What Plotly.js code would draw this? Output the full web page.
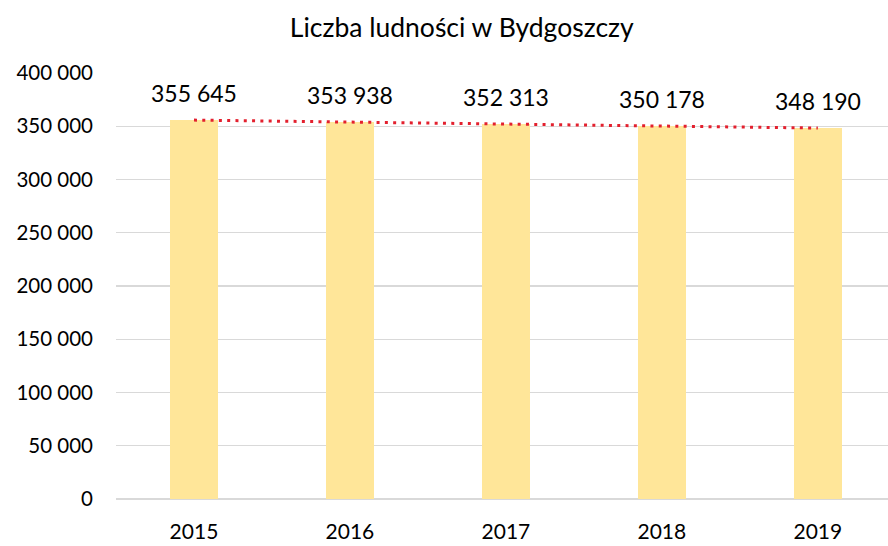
<!DOCTYPE html>
<html>
<head>
<meta charset="utf-8">
<script src="https://cdn.plot.ly/plotly-3.0.1.min.js"></script>
<style>html,body{margin:0;padding:0;background:#fff;}#chart{width:888px;height:546px;}</style>
</head>
<body>
<div id="chart"></div>
<script>
const years = ['2015', '2016', '2017', '2018', '2019'];
const population = [355645, 353938, 352313, 350178, 348190];
const yTickValues = [0, 50000, 100000, 150000, 200000, 250000, 300000, 350000, 400000];
const chartTitle = 'Liczba ludności w Bydgoszczy';

// linear trendline (least squares) computed from the data
const n = population.length;
const idx = population.map((_, i) => i);
const mx = idx.reduce((a, b) => a + b, 0) / n;
const my = population.reduce((a, b) => a + b, 0) / n;
let sxy = 0, sxx = 0;
idx.forEach(i => { sxy += (i - mx) * (population[i] - my); sxx += (i - mx) * (i - mx); });
const slope = sxy / sxx;
const intercept = my - slope * mx;
const trend = idx.map(i => intercept + slope * i);

const font = "Lato, 'Open Sans', sans-serif";
const fmt = v => String(v).replace(/\B(?=(\d{3})+(?!\d))/g, ' ');

const bars = {
  type: 'bar',
  x: years,
  y: population,
  width: 0.31,
  marker: {color: '#FFE699'},
  hoverinfo: 'skip',
  showlegend: false
};

const trendLine = {
  type: 'scatter',
  mode: 'lines',
  x: years,
  y: trend,
  line: {color: '#E3202E', width: 3, dash: '3px,5.3px'},
  hoverinfo: 'skip',
  showlegend: false
};

// category axis: annotation x given as the category index
const labels = years.map((yr, i) => ({
  x: i,
  y: population[i],
  xref: 'x',
  yref: 'y',
  text: fmt(population[i]),
  showarrow: false,
  yanchor: 'bottom',
  xanchor: 'center',
  yshift: 11,
  font: {family: font, size: 23, color: '#000'}
}));

const layout = {
  width: 888,
  height: 546,
  margin: {l: 116, r: 0, t: 73, b: 47},
  paper_bgcolor: '#fff',
  plot_bgcolor: '#fff',
  separators: ', ',
  title: {
    text: chartTitle,
    font: {family: font, size: 26.5, color: '#000'},
    x: 0.52,
    xanchor: 'center',
    y: 0.949,
    yanchor: 'middle'
  },
  xaxis: {
    type: 'category',
    range: [-0.5, 4.45],
    showgrid: false,
    showline: false,
    zeroline: false,
    ticks: '',
    ticklabelstandoff: 18,
    tickfont: {family: font, size: 21, color: '#000'}
  },
  yaxis: {
    range: [0, 400000],
    tickvals: yTickValues,
    tickformat: ',d',
    showgrid: true,
    gridcolor: '#D9D9D9',
    gridwidth: 1.3,
    zeroline: true,
    zerolinecolor: '#D9D9D9',
    zerolinewidth: 1.5,
    showline: false,
    ticks: '',
    ticklabelstandoff: 22,
    tickfont: {family: font, size: 20.5, color: '#000'}
  },
  annotations: labels,
  bargap: 0
};

Plotly.newPlot('chart', [bars, trendLine], layout, {staticPlot: true, displayModeBar: false});
</script>
</body>
</html>
